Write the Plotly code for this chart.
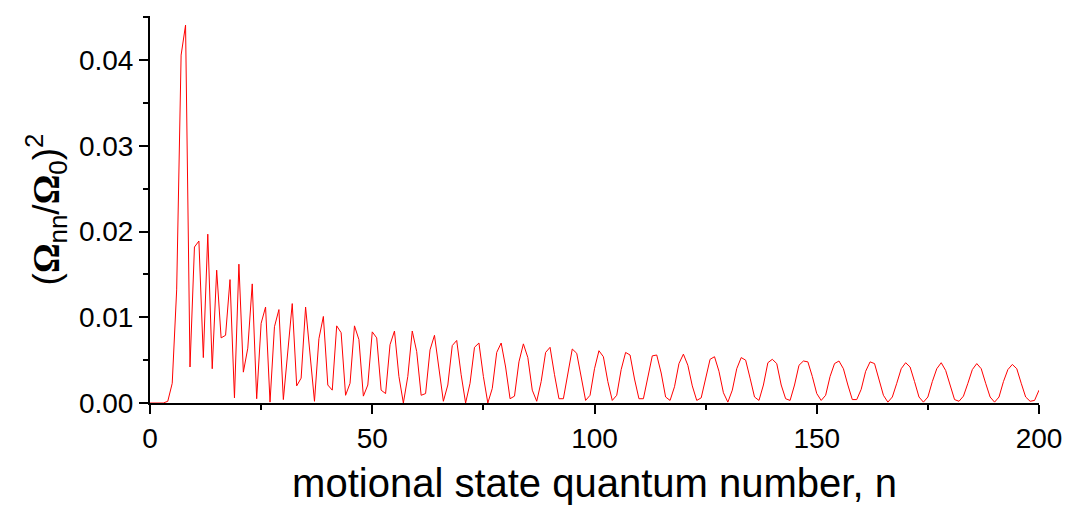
import plotly.graph_objects as go

n_values = list(range(0, 201))

ratio_sq = [
    0.0, 0.0, 0.0, 0.0, 0.0002, 0.0023, 0.0132, 0.0406, 0.0441, 0.0042,
    0.0182, 0.0189, 0.0053, 0.0197, 0.0040, 0.0155, 0.0076, 0.0079, 0.0144, 0.0006,
    0.0162, 0.0036, 0.0064, 0.0139, 0.0005, 0.0093, 0.0112, 0.0001, 0.0089, 0.0109,
    0.0004, 0.0062, 0.0116, 0.0020, 0.0029, 0.0112, 0.0058, 0.0002, 0.0075, 0.0101,
    0.0021, 0.0015, 0.0090, 0.0082, 0.0009, 0.0023, 0.0090, 0.0074, 0.0008, 0.0021,
    0.0083, 0.0076, 0.0015, 0.0011, 0.0068, 0.0084, 0.0031, 0.0000, 0.0031, 0.0084,
    0.0060, 0.0009, 0.0011, 0.0062, 0.0079, 0.0039, 0.0002, 0.0021, 0.0067, 0.0073,
    0.0033, 0.0000, 0.0023, 0.0065, 0.0070, 0.0031, 0.0000, 0.0017, 0.0059, 0.0070,
    0.0042, 0.0005, 0.0008, 0.0048, 0.0069, 0.0053, 0.0015, 0.0002, 0.0025, 0.0059,
    0.0065, 0.0033, 0.0005, 0.0005, 0.0033, 0.0063, 0.0058, 0.0029, 0.0003, 0.0009,
    0.0040, 0.0061, 0.0054, 0.0025, 0.0003, 0.0009, 0.0039, 0.0059, 0.0056, 0.0028,
    0.0005, 0.0005, 0.0031, 0.0055, 0.0056, 0.0035, 0.0007, 0.0003, 0.0019, 0.0046,
    0.0057, 0.0044, 0.0020, 0.0003, 0.0006, 0.0029, 0.0051, 0.0054, 0.0037, 0.0012,
    0.0001, 0.0015, 0.0040, 0.0053, 0.0050, 0.0029, 0.0007, 0.0003, 0.0021, 0.0047,
    0.0051, 0.0046, 0.0021, 0.0005, 0.0003, 0.0021, 0.0044, 0.0049, 0.0048, 0.0031,
    0.0011, 0.0003, 0.0009, 0.0031, 0.0046, 0.0049, 0.0040, 0.0021, 0.0004, 0.0004,
    0.0016, 0.0037, 0.0048, 0.0046, 0.0027, 0.0009, 0.0001, 0.0007, 0.0023, 0.0040,
    0.0047, 0.0042, 0.0025, 0.0007, 0.0001, 0.0007, 0.0025, 0.0040, 0.0047, 0.0038,
    0.0021, 0.0004, 0.0002, 0.0008, 0.0023, 0.0039, 0.0046, 0.0040, 0.0023, 0.0007,
    0.0001, 0.0007, 0.0025, 0.0039, 0.0045, 0.0040, 0.0023, 0.0007, 0.0002, 0.0003,
    0.0015,
]

x_ticks = [0, 50, 100, 150, 200]
y_ticks = [0.00, 0.01, 0.02, 0.03, 0.04]
y_tick_labels = ["0.00", "0.01", "0.02", "0.03", "0.04"]

x_title = "motional state quantum number, n"
y_title = ("(<span style='font-family:Liberation Serif'><b>Ω</b></span><sub>nn</sub>/"
           "<span style='font-family:Liberation Serif'><b>Ω</b></span><sub>0</sub>)<sup>2</sup>")

fig = go.Figure()
fig.add_trace(go.Scatter(
    x=n_values, y=ratio_sq, mode="lines",
    line=dict(color="#ff0000", width=1),
    showlegend=False,
))

fig.update_layout(
    width=1066, height=510,
    margin=dict(l=150, r=27, t=16, b=107, autoexpand=False),
    paper_bgcolor="white", plot_bgcolor="white",
    font=dict(family="Liberation Sans, Arial, sans-serif", color="black"),
)

fig.update_xaxes(
    range=[0, 200], tickvals=x_ticks, ticktext=[str(v) for v in x_ticks],
    showline=True, linecolor="black", linewidth=2,
    ticks="outside", ticklen=9, tickwidth=2, tickcolor="black",
    minor=dict(ticks="outside", ticklen=5, tickwidth=2, tickcolor="black", dtick=25, tick0=0),
    showgrid=False, zeroline=False, automargin=False,
    tickfont=dict(size=28),
    title=dict(text=x_title, font=dict(size=40), standoff=16),
)

fig.update_yaxes(
    range=[0, 0.04516], tickvals=y_ticks, ticktext=y_tick_labels,
    showline=True, linecolor="black", linewidth=2,
    ticks="outside", ticklen=9, tickwidth=2, tickcolor="black",
    minor=dict(ticks="outside", ticklen=5, tickwidth=2, tickcolor="black", dtick=0.005, tick0=0),
    showgrid=False, zeroline=False, automargin=False,
    tickfont=dict(size=28),
    title=dict(text=y_title, font=dict(size=37), standoff=8),
)

fig.write_html("out.html")
